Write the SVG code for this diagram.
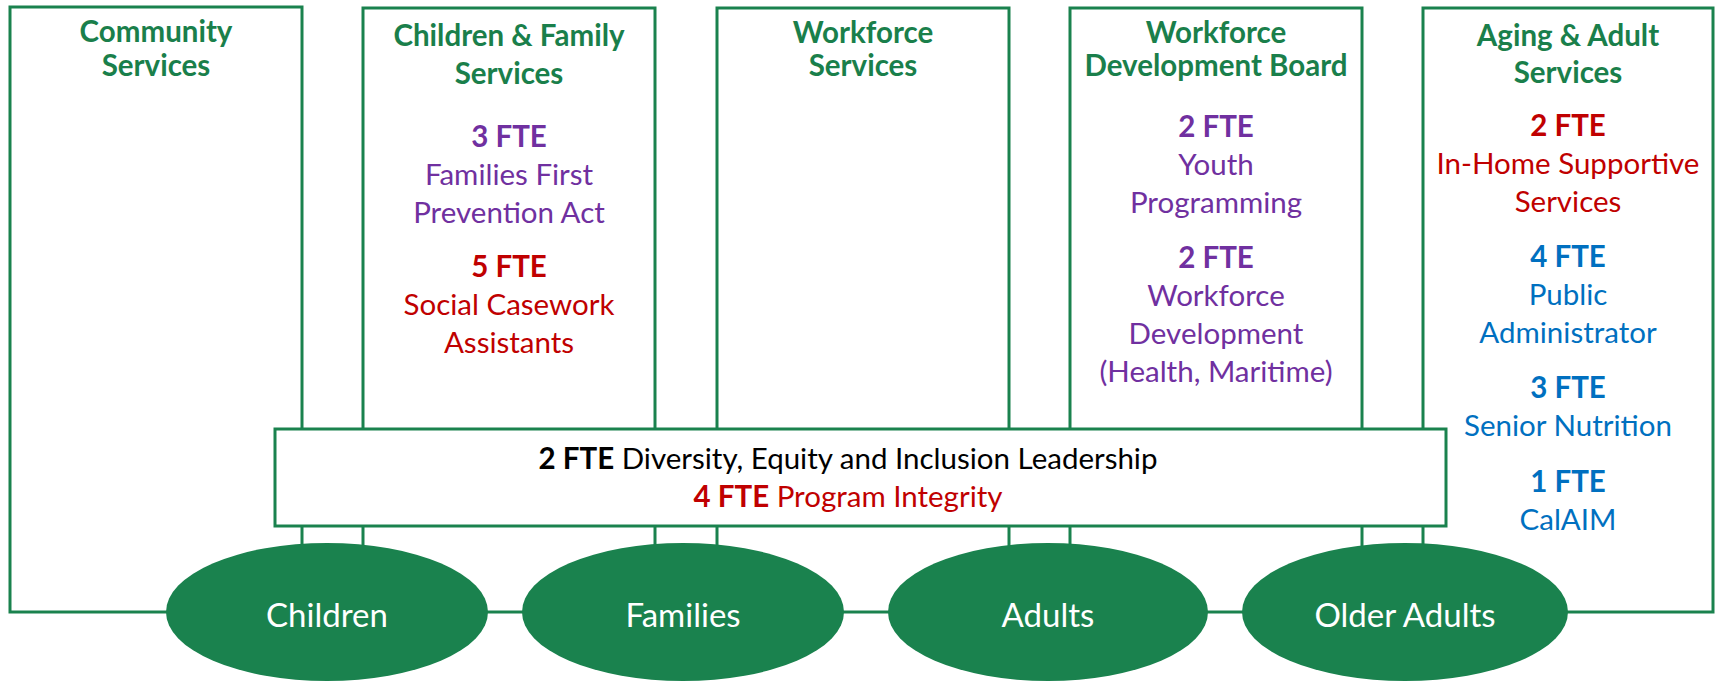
<svg xmlns="http://www.w3.org/2000/svg" width="1715" height="682" viewBox="0 0 1715 682">
<style>
.box{fill:#ffffff;stroke:#1a824e;stroke-width:3}
.oval{fill:#1a824e}
text{font-family:Lato,"Open Sans","Liberation Sans",sans-serif;font-size:29.5px;text-anchor:middle}
.t{fill:#1a7f4b;font-weight:bold}
.b{font-weight:bold}
.pu{fill:#7030a0}
.rd{fill:#c00000}
.bl{fill:#0070c0}
.bk{fill:#000000}
.ov{fill:#ffffff;font-size:33px}
</style>
<g id="connectors"></g>
<g id="community-services">
<rect class="box" x="10" y="7" width="292" height="605"/>
<text class="t" x="156" y="42">Community</text>
<text class="t" x="156" y="76">Services</text>
</g>
<g id="children-family-services">
<rect class="box" x="363" y="8" width="292" height="604"/>
<text class="t" x="509" y="46">Children &amp; Family</text>
<text class="t" x="509" y="84">Services</text>
<text class="pu b" x="509" y="147">3 FTE</text>
<text class="pu" x="509" y="185">Families First</text>
<text class="pu" x="509" y="223">Prevention Act</text>
<text class="rd b" x="509" y="277">5 FTE</text>
<text class="rd" x="509" y="315">Social Casework</text>
<text class="rd" x="509" y="353">Assistants</text>
</g>
<g id="workforce-services">
<rect class="box" x="717" y="8" width="292" height="604"/>
<text class="t" x="863" y="43">Workforce</text>
<text class="t" x="863" y="76">Services</text>
</g>
<g id="workforce-development-board">
<rect class="box" x="1070" y="8" width="292" height="604"/>
<text class="t" x="1216" y="43">Workforce</text>
<text class="t" x="1216" y="76">Development Board</text>
<text class="pu b" x="1216" y="137">2 FTE</text>
<text class="pu" x="1216" y="175">Youth</text>
<text class="pu" x="1216" y="213">Programming</text>
<text class="pu b" x="1216" y="268">2 FTE</text>
<text class="pu" x="1216" y="306">Workforce</text>
<text class="pu" x="1216" y="344">Development</text>
<text class="pu" x="1216" y="382">(Health, Maritime)</text>
</g>
<g id="aging-adult-services">
<rect class="box" x="1423" y="8" width="290" height="604"/>
<text class="t" x="1568" y="46">Aging &amp; Adult</text>
<text class="t" x="1568" y="83">Services</text>
<text class="rd b" x="1568" y="136">2 FTE</text>
<text class="rd" x="1568" y="174">In-Home Supportive</text>
<text class="rd" x="1568" y="212">Services</text>
<text class="bl b" x="1568" y="267">4 FTE</text>
<text class="bl" x="1568" y="305">Public</text>
<text class="bl" x="1568" y="343">Administrator</text>
<text class="bl b" x="1568" y="398">3 FTE</text>
<text class="bl" x="1568" y="436">Senior Nutrition</text>
<text class="bl b" x="1568" y="492">1 FTE</text>
<text class="bl" x="1568" y="530">CalAIM</text>
</g>
<g id="shared-positions">
<rect class="box" x="275" y="429" width="1171" height="97"/>
<text class="bk" x="848" y="469"><tspan class="b">2 FTE</tspan> Diversity, Equity and Inclusion Leadership</text>
<text class="rd" x="848" y="507"><tspan class="b">4 FTE</tspan> Program Integrity</text>
</g>
<g id="children">
<ellipse class="oval" cx="327" cy="612" rx="161" ry="69"/>
<text class="ov" x="327" y="627">Children</text>
</g>
<g id="families">
<ellipse class="oval" cx="683" cy="612" rx="161" ry="69"/>
<text class="ov" x="683" y="627">Families</text>
</g>
<g id="adults">
<ellipse class="oval" cx="1048" cy="612" rx="160" ry="69"/>
<text class="ov" x="1048" y="627">Adults</text>
</g>
<g id="older-adults">
<ellipse class="oval" cx="1405" cy="612" rx="163" ry="69"/>
<text class="ov" x="1405" y="627">Older Adults</text>
</g>
</svg>
